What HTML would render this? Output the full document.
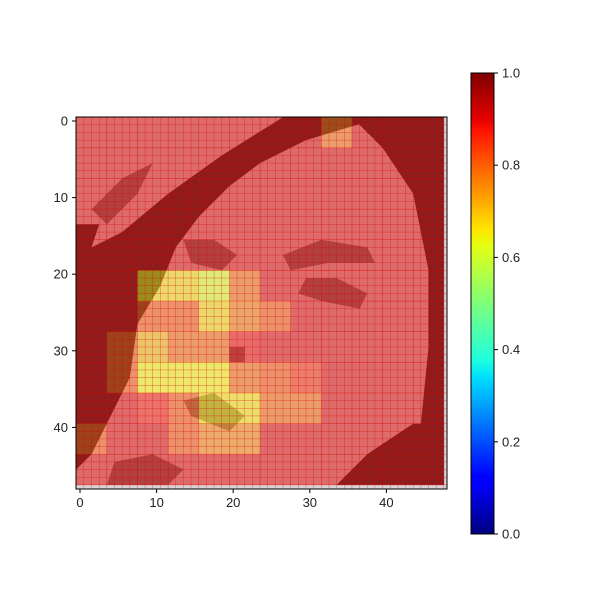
<!DOCTYPE html>
<html><head><meta charset="utf-8"><style>
body{margin:0;background:#fff;font-family:"Liberation Sans",sans-serif}
svg text{font-family:"Liberation Sans",sans-serif;font-size:13px;fill:#222}
</style></head><body>
<svg id="chart" width="600" height="600" viewBox="0 0 600 600" xmlns="http://www.w3.org/2000/svg">
<defs>
<linearGradient id="jet" x1="0" y1="1" x2="0" y2="0">
<stop offset="0" stop-color="#00007f"/><stop offset="0.11" stop-color="#0000ff"/>
<stop offset="0.125" stop-color="#0000ff"/><stop offset="0.34" stop-color="#00dfff"/>
<stop offset="0.375" stop-color="#1cffe0"/><stop offset="0.5" stop-color="#7dff7a"/>
<stop offset="0.625" stop-color="#e4ff13"/><stop offset="0.66" stop-color="#ffe600"/>
<stop offset="0.875" stop-color="#ff1300"/><stop offset="0.9" stop-color="#e50000"/>
<stop offset="1" stop-color="#7f0000"/>
</linearGradient>
<clipPath id="clip"><rect x="76" y="117" width="371" height="372"/></clipPath>
</defs>
<g id="img" clip-path="url(#clip)"></g>
<g id="axes"></g>
</svg>
<script>
// 12x12 block heat values (each block = 4x4 pixels)
const heatRows = [
 [0.9,0.9,0.9,0.9,0.9,0.9,0.9,0.9,0.78,0.9,0.9,0.9],
 [0.9,0.9,0.9,0.9,0.9,0.9,0.9,0.9,0.9,0.9,0.9,0.9],
 [0.9,0.9,0.9,0.9,0.9,0.9,0.9,0.9,0.9,0.9,0.9,0.9],
 [0.9,0.9,0.9,0.9,0.9,0.9,0.9,0.9,0.9,0.9,0.9,0.9],
 [0.9,0.9,0.9,0.9,0.9,0.9,0.9,0.9,0.9,0.9,0.9,0.9],
 [0.9,0.9,0.66,0.66,0.6,0.78,0.9,0.9,0.9,0.9,0.9,0.9],
 [0.9,0.9,0.8,0.8,0.66,0.76,0.8,0.9,0.9,0.9,0.9,0.9],
 [0.9,0.8,0.7,0.78,0.78,0.88,0.9,0.9,0.9,0.9,0.9,0.9],
 [0.9,0.8,0.63,0.63,0.63,0.78,0.8,0.84,0.9,0.9,0.9,0.9],
 [0.9,0.9,0.86,0.8,0.65,0.65,0.78,0.78,0.9,0.9,0.9,0.9],
 [0.8,0.9,0.9,0.8,0.75,0.75,0.9,0.9,0.9,0.9,0.9,0.9],
 [0.9,0.9,0.9,0.9,0.9,0.9,0.9,0.9,0.9,0.9,0.9,0.9]
];
const xTicks=[0,10,20,30,40];
const yTicks=[0,10,20,30,40];
const cbTicks=["0.0","0.2","0.4","0.6","0.8","1.0"];
const NS="http://www.w3.org/2000/svg";
const U=7.66, X0=80, Y0=121;
function sx(v){return X0+v*U;}
function sy(v){return Y0+v*U;}
function el(t,a,p){const e=document.createElementNS(NS,t);for(const k in a)e.setAttribute(k,a[k]);p.appendChild(e);return e;}
function jet(v){
 const r=Math.min(Math.max(Math.min(4*v-1.5,-4*v+4.5),0),1);
 const g=Math.min(Math.max(Math.min(4*v-0.5,-4*v+3.5),0),1);
 const b=Math.min(Math.max(Math.min(4*v+0.5,-4*v+2.5),0),1);
 return `rgb(${Math.round(r*255)},${Math.round(g*255)},${Math.round(b*255)})`;
}
const img=document.getElementById('img');
el('rect',{x:sx(-0.5),y:sy(-0.5),width:49*U,height:49*U,fill:'#d6d6d6'},img);
const dark=[
 [[27,0],[40,0],[30,3],[24,6],[20,9],[16,13],[13,17],[11,22],[8,27],[7,34],[4,40],[2,44],[0,46],[0,18],[6,15],[12,10],[19,5]],
 [[36,0],[48,0],[48,48],[44,48],[45,40],[46,30],[46,20],[44,10],[40,4]],
 [[34,48],[38,44],[44,40],[48,40],[48,48]],
 [[0,14],[3,14],[1,20],[0,20]]
];
const mid=[
 [[14,16],[18,16],[21,18],[19,20],[15,19]],
 [[30,21],[34,21],[38,23],[37,25],[32,24],[29,23]],
 [[27,18],[32,16],[38,17],[39,19],[33,19],[28,20]],
 [[14,37],[18,36],[22,39],[20,41],[15,39]],
 [[2,12],[6,8],[10,6],[8,10],[4,14]],
 [[5,45],[10,44],[14,46],[12,48],[4,48]],
 [[20,30],[22,30],[22,32],[20,32]]
];
dark.forEach(p=>{const e=el('polygon',{points:p.map(q=>sx(q[0]-0.5)+','+sy(q[1]-0.5)).join(' '),fill:'#383838'},img);});
mid.forEach(p=>{const e=el('polygon',{points:p.map(q=>sx(q[0]-0.5)+','+sy(q[1]-0.5)).join(' '),fill:'#808080'},img);});
heatRows.forEach((row,r)=>row.forEach((v,c)=>{
 const e=el('rect',{x:sx(c*4-0.5),y:sy(r*4-0.5),width:4*U+0.3,height:4*U+0.3,fill:jet(v),'fill-opacity':0.5},img);
 
 
}));
for(let i=0;i<=48;i++){
 el('line',{x1:sx(i-0.5),x2:sx(i-0.5),y1:117,y2:489,stroke:'#e00000','stroke-width':0.5,'stroke-opacity':0.55},img);
 el('line',{y1:sy(i-0.5),y2:sy(i-0.5),x1:76,x2:447,stroke:'#e00000','stroke-width':0.5,'stroke-opacity':0.55},img);
}
const ax=document.getElementById('axes');
const fr=el('rect',{x:76,y:117,width:371,height:372,fill:'none',stroke:'#000','stroke-width':1},ax);

xTicks.forEach(t=>{
 el('line',{x1:sx(t),x2:sx(t),y1:489,y2:493,stroke:'#000'},ax);
 const tx=el('text',{x:sx(t),y:507,'text-anchor':'middle'},ax);tx.textContent=t;
 
});
yTicks.forEach(t=>{
 el('line',{x1:72,x2:76,y1:sy(t),y2:sy(t),stroke:'#000'},ax);
 const tx=el('text',{x:68,y:sy(t)+4.5,'text-anchor':'end'},ax);tx.textContent=t;
 
});
const cb=el('rect',{x:471,y:73,width:23,height:461,fill:'url(#jet)',stroke:'#000','stroke-width':1},ax);

cbTicks.forEach((t,i)=>{
 const y=534-i*461/(cbTicks.length-1);
 el('line',{x1:494,x2:498,y1:y,y2:y,stroke:'#000'},ax);
 const tx=el('text',{x:502,y:y+4.5},ax);tx.textContent=t;
 
});
</script>
</body></html>
